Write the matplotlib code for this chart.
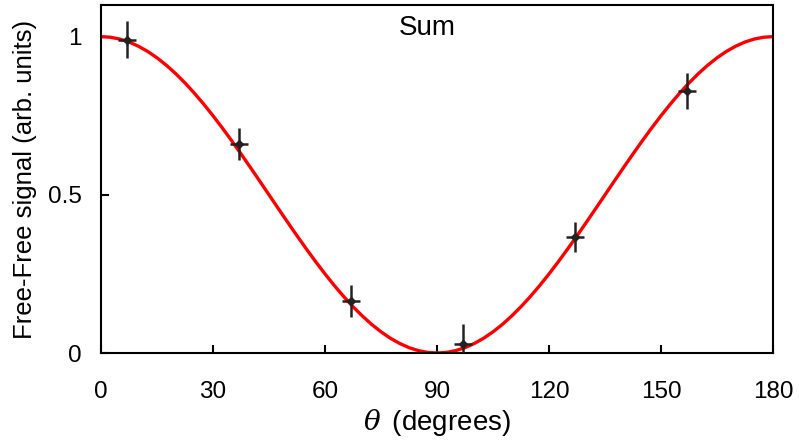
import matplotlib
matplotlib.use("Agg")
import matplotlib.pyplot as plt

plt.rcParams.update({
    'font.family': 'sans-serif',
    'font.sans-serif': ['Liberation Sans', 'DejaVu Sans'],
    'font.size': 17.5,
    'mathtext.fontset': 'dejavuserif',
})

# measured points
theta = [7, 37, 67, 97, 127, 157]
signal = [0.99, 0.66, 0.165, 0.028, 0.367, 0.829]
signal_err = [0.059, 0.05, 0.05, 0.063, 0.048, 0.057]
theta_err = [2.5, 2.5, 2.5, 2.5, 2.5, 2.5]

# fitted curve read at 2.5 degree steps
curve_theta = [i * 2.5 for i in range(73)]
curve_vals = [1.0000, 0.9981, 0.9924, 0.9830, 0.9698, 0.9532, 0.9330, 0.9096,
              0.8830, 0.8536, 0.8214, 0.7868, 0.7500, 0.7113, 0.6710, 0.6294,
              0.5868, 0.5436, 0.5000, 0.4564, 0.4132, 0.3706, 0.3290, 0.2887,
              0.2500, 0.2132, 0.1786, 0.1464, 0.1170, 0.0904, 0.0670, 0.0468,
              0.0302, 0.0170, 0.0076, 0.0019, 0.0000,
              0.0019, 0.0076, 0.0170, 0.0302, 0.0468, 0.0670, 0.0904, 0.1170,
              0.1464, 0.1786, 0.2132, 0.2500, 0.2887, 0.3290, 0.3706, 0.4132,
              0.4564, 0.5000, 0.5436, 0.5868, 0.6294, 0.6710, 0.7113, 0.7500,
              0.7868, 0.8214, 0.8536, 0.8830, 0.9096, 0.9330, 0.9532, 0.9698,
              0.9830, 0.9924, 0.9981, 1.0000]

x_ticks = [0, 30, 60, 90, 120, 150, 180]
y_ticks = [0, 0.5, 1]
y_tick_labels = ['0', '0.5', '1']

fig = plt.figure(figsize=(7.99, 4.45), dpi=100)
ax = fig.add_axes([0.1264, 0.2067, 0.8411, 0.7821])

ax.plot(curve_theta, curve_vals, color='#ff0000', linewidth=2.4, zorder=2,
        solid_joinstyle='round')
ax.errorbar(theta, signal, yerr=signal_err, xerr=theta_err, fmt='D',
            color='#222222', markersize=4.5, elinewidth=1.8, capsize=0, zorder=3)

ax.set_xlim(0, 180)
ax.set_ylim(0, 1.1)
ax.set_xticks(x_ticks)
ax.set_yticks(y_ticks)
ax.set_yticklabels(y_tick_labels)
ax.tick_params(direction='in', length=6, width=1.5, top=False, right=False)
ax.tick_params(axis='x', pad=20)
ax.tick_params(axis='y', pad=14)
for s in ax.spines.values():
    s.set_linewidth(1.5)

ax.set_xlabel(r'$\theta\,$ (degrees)', labelpad=3, fontsize=20)
ax.set_ylabel('Free-Free signal (arb. units)', labelpad=8, fontsize=18.5)
ax.text(0.486, 0.934, 'Sum', transform=ax.transAxes, ha='center', va='center',
        fontsize=20)

fig.savefig('out.png', dpi=100)
